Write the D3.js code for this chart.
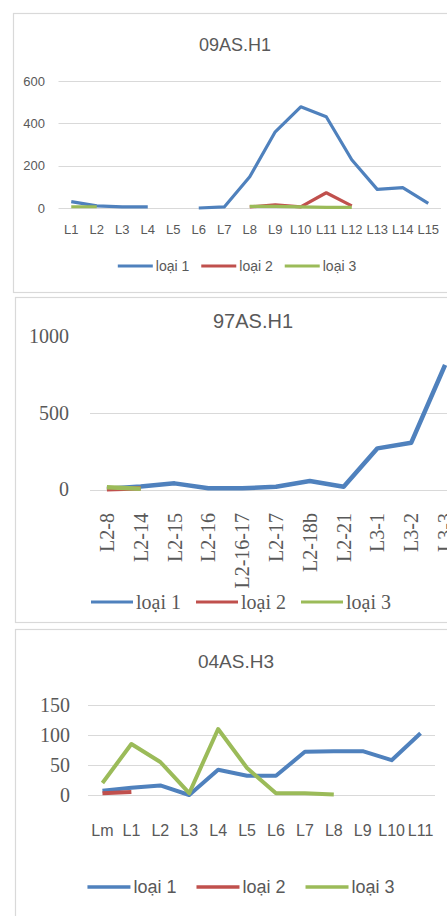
<!DOCTYPE html>
<html>
<head>
<meta charset="utf-8">
<script src="https://cdn.jsdelivr.net/npm/d3@7"></script>
<style>
  body { margin: 0; background: #fff; }
  svg { display: block; }
</style>
</head>
<body>
<div id="chart"></div>
<script>
// series names + colours (Excel 2007 palette)
const seriesNames = ['loại 1', 'loại 2', 'loại 3'];
const seriesColors = ['#4F81BD', '#C0504D', '#9BBB59'];

// chart 1: 09AS.H1
const c1Cats = ['L1', 'L2', 'L3', 'L4', 'L5', 'L6', 'L7', 'L8', 'L9', 'L10', 'L11', 'L12', 'L13', 'L14', 'L15'];
const c1Loai1 = [30, 10, 5, 5, null, 0, 5, 148, 360, 478, 431, 228, 88, 96, 22];
const c1Loai2 = [null, null, null, null, null, null, null, 5, 15, 5, 72, 10, null, null, null];
const c1Loai3 = [6, 6, null, null, null, null, null, 8, 8, 5, 3, 3, null, null, null];
const c1Ticks = [0, 200, 400, 600];

// chart 2: 97AS.H1
const c2Cats = ['L2-8', 'L2-14', 'L2-15', 'L2-16', 'L2-16-17', 'L2-17', 'L2-18b', 'L2-21', 'L3-1', 'L3-2', 'L3-3'];
const c2Loai1 = [5, 20, 40, 8, 8, 18, 55, 18, 268, 305, 811];
const c2Loai2 = [2, 8, null, null, null, null, null, null, null, null, null];
const c2Loai3 = [15, 5, null, null, null, null, null, null, null, null, null];
const c2Ticks = [0, 500, 1000];

// chart 3: 04AS.H3
const c3Cats = ['Lm', 'L1', 'L2', 'L3', 'L4', 'L5', 'L6', 'L7', 'L8', 'L9', 'L10', 'L11'];
const c3Loai1 = [7, 12, 16, 0, 42, 32, 32, 72, 73, 73, 58, 103];
const c3Loai2 = [3, 5, null, null, null, null, null, null, null, null, null, null];
const c3Loai3 = [20, 85, 55, 3, 110, 45, 3, 3, 1, null, null, null];
const c3Ticks = [0, 50, 100, 150];

const W = 447, H = 916;
const textColor = '#595959';
const gridColor = '#d9d9d9';
const sans = '"Liberation Sans", Arial, sans-serif';
const serif = '"Liberation Serif", "Times New Roman", serif';

const svg = d3.select('#chart').append('svg')
  .attr('width', W)
  .attr('height', H);

function drawChart(cfg) {
  const g = svg.append('g');

  // frame
  g.append('rect')
    .attr('x', cfg.box[0] + 0.5)
    .attr('y', cfg.box[1] + 0.5)
    .attr('width', cfg.box[2])
    .attr('height', cfg.box[3])
    .attr('fill', '#fff')
    .attr('stroke', '#d9d9d9')
    .attr('stroke-width', 1.2);

  g.append('text')
    .attr('x', cfg.titleX)
    .attr('y', cfg.titleY)
    .attr('text-anchor', 'middle')
    .attr('font-family', sans)
    .attr('font-size', cfg.titleSize)
    .attr('fill', textColor)
    .text(cfg.title);

  const x = d3.scaleBand()
    .domain(cfg.cats)
    .range(cfg.xRange);

  const y = d3.scaleLinear()
    .domain([0, d3.max(cfg.ticks)])
    .range(cfg.yRange);

  // gridlines
  g.append('g')
    .selectAll('line')
    .data(cfg.gridTicks)
    .join('line')
    .attr('x1', cfg.xRange[0])
    .attr('x2', cfg.xRange[1])
    .attr('y1', d => Math.round(y(d)) + 0.5)
    .attr('y2', d => Math.round(y(d)) + 0.5)
    .attr('stroke', gridColor)
    .attr('stroke-width', 1);

  // y axis labels
  const yAxis = g.append('g')
    .attr('transform', `translate(${cfg.yLabelX},0)`)
    .call(d3.axisLeft(y).tickValues(cfg.ticks).tickFormat(d3.format('d')).tickSize(0).tickPadding(0));
  yAxis.select('.domain').remove();
  yAxis.selectAll('text')
    .attr('font-family', cfg.yFont)
    .attr('font-size', cfg.yFontSize)
    .attr('fill', textColor);

  // x axis labels
  const xAxis = g.append('g')
    .attr('transform', `translate(0,${cfg.xLabelY})`)
    .call(d3.axisBottom(x).tickSize(0).tickPadding(0));
  xAxis.select('.domain').remove();
  const xt = xAxis.selectAll('text')
    .attr('font-family', cfg.xFont)
    .attr('font-size', cfg.xFontSize)
    .attr('fill', textColor);
  if (cfg.rotate) {
    xt.attr('transform', 'rotate(-90)')
      .attr('text-anchor', 'end')
      .attr('dy', '0.35em')
      .attr('x', 0)
      .attr('y', 0);
  } else {
    xt.attr('dy', '0.35em').attr('y', 0);
  }

  // lines
  const line = d3.line()
    .defined(d => d.v != null)
    .x(d => x(d.c) + x.bandwidth() / 2)
    .y(d => y(d.v));

  cfg.series.forEach((vals, i) => {
    const pts = cfg.cats.map((c, j) => ({ c: c, v: vals[j] }));
    g.append('path')
      .datum(pts)
      .attr('fill', 'none')
      .attr('stroke', seriesColors[i])
      .attr('stroke-width', cfg.lineWidth)
      .attr('stroke-linejoin', 'round')
      .attr('d', line);
  });

  // legend, centred on legendX
  const leg = g.append('g');
  let cx = 0;
  seriesNames.forEach((name, i) => {
    leg.append('line')
      .attr('x1', cx)
      .attr('x2', cx + cfg.legLine)
      .attr('y1', 0)
      .attr('y2', 0)
      .attr('stroke', seriesColors[i])
      .attr('stroke-width', cfg.legLineWidth);
    const t = leg.append('text')
      .attr('x', cx + cfg.legLine + 3)
      .attr('y', 0)
      .attr('dy', '0.35em')
      .attr('font-family', cfg.legFont)
      .attr('font-size', cfg.legFontSize)
      .attr('fill', textColor)
      .text(name);
    cx += cfg.legLine + 3 + t.node().getComputedTextLength() + cfg.legGap;
  });
  const legW = cx - cfg.legGap;
  leg.attr('transform', `translate(${cfg.legendX - legW / 2},${cfg.legendY})`);
}

drawChart({
  box: [13, 13, 440, 279],
  title: '09AS.H1', titleX: 235, titleY: 51, titleSize: 18,
  cats: c1Cats, ticks: c1Ticks, gridTicks: c1Ticks,
  series: [c1Loai1, c1Loai2, c1Loai3],
  xRange: [58.5, 441], yRange: [208, 81],
  yLabelX: 45, yFont: sans, yFontSize: 13,
  xLabelY: 229, xFont: sans, xFontSize: 13, rotate: false,
  lineWidth: 3.2,
  legendX: 237, legendY: 266, legLine: 35, legGap: 12, legLineWidth: 3.2,
  legFont: sans, legFontSize: 14
});

drawChart({
  box: [15, 297, 440, 325],
  title: '97AS.H1', titleX: 253, titleY: 328, titleSize: 20,
  cats: c2Cats, ticks: c2Ticks, gridTicks: [0, 500],
  series: [c2Loai1, c2Loai2, c2Loai3],
  xRange: [90, 462], yRange: [489.5, 336],
  yLabelX: 69, yFont: serif, yFontSize: 20,
  xLabelY: 513, xFont: serif, xFontSize: 20, rotate: true,
  lineWidth: 4.5,
  legendX: 241, legendY: 602, legLine: 42, legGap: 15, legLineWidth: 3,
  legFont: serif, legFontSize: 20
});

drawChart({
  box: [15, 629, 440, 300],
  title: '04AS.H3', titleX: 236, titleY: 668, titleSize: 19,
  cats: c3Cats, ticks: c3Ticks, gridTicks: c3Ticks,
  series: [c3Loai1, c3Loai2, c3Loai3],
  xRange: [88, 435], yRange: [795, 705],
  yLabelX: 70, yFont: serif, yFontSize: 20,
  xLabelY: 830, xFont: sans, xFontSize: 16, rotate: false,
  lineWidth: 4,
  legendX: 241, legendY: 887, legLine: 43, legGap: 20, legLineWidth: 3.5,
  legFont: sans, legFontSize: 18
});
</script>
</body>
</html>
